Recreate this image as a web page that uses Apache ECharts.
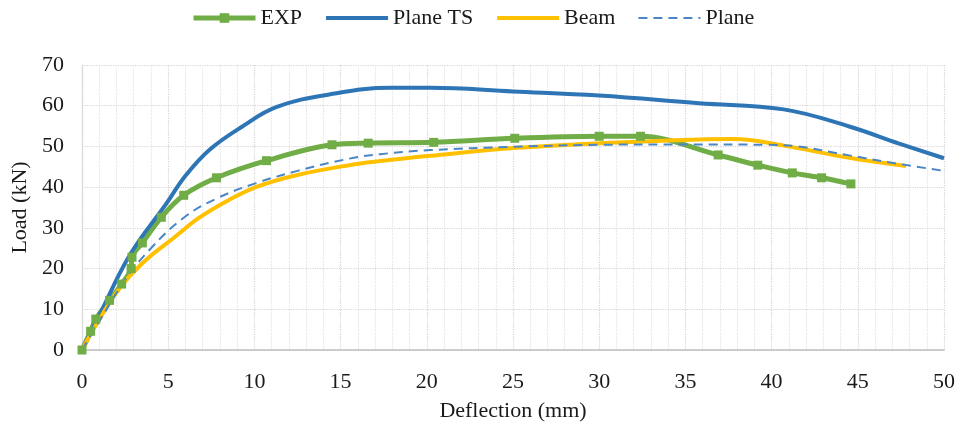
<!DOCTYPE html>
<html lang="en">
<head>
    <meta charset="UTF-8">
    <title>Load - Deflection</title>
    <script src="https://cdn.jsdelivr.net/npm/echarts@6/dist/echarts.min.js"></script>
    <style>
        html, body { margin: 0; padding: 0; background: #fff; }
    </style>
</head>
<body>
<div id="chart" style="width:957px; height:423px"></div>
<script type="text/javascript">
    // data (deflection in mm, load in kN)
    var expDefl = [0, 0.5, 0.8, 1.6, 2.3, 2.85, 2.9, 3.5, 4.6, 5.9, 7.8, 10.7, 14.5, 16.6, 20.4, 25.1, 30.0, 32.4, 36.9, 39.2, 41.2, 42.9, 44.6];
    var expLoad = [0, 4.6, 7.6, 12.2, 16.2, 20.0, 22.8, 26.3, 32.6, 38.0, 42.3, 46.5, 50.4, 50.8, 51.0, 52.0, 52.5, 52.5, 47.9, 45.4, 43.5, 42.3, 40.8];

    var tsDefl = [0, 1.0, 2.8, 4.9, 6.0, 7.4, 9.3, 11.3, 14.4, 17.9, 20.2, 25.0, 30.0, 35.8, 40.7, 44.5, 47.4, 50.0];
    var tsLoad = [0, 8.5, 23.5, 36.0, 42.8, 49.2, 54.9, 59.7, 62.8, 64.4, 64.4, 63.5, 62.5, 60.6, 59.1, 54.9, 50.7, 47.1];

    var beamDefl = [0, 0.75, 2.1, 3.5, 5.4, 6.8, 8.5, 10.2, 12.5, 15.5, 17.3, 20.2, 25.0, 30.0, 33.0, 37.8, 40.7, 44.5, 47.8];
    var beamLoad = [0, 5.7, 14.7, 21.3, 27.8, 32.5, 36.8, 40.2, 43.0, 45.4, 46.4, 47.7, 49.6, 50.8, 51.3, 51.8, 50.2, 47.2, 45.2];

    var planeDefl = [0, 1.0, 2.5, 4.0, 5.9, 7.8, 10.1, 12.5, 15.5, 17.3, 20.2, 25.0, 30.0, 35.0, 39.7, 41.5, 44.5, 47.4, 50.0];
    var planeLoad = [0, 7.0, 17.2, 25.0, 32.5, 37.2, 41.0, 44.0, 47.0, 48.1, 49.1, 49.9, 50.4, 50.5, 50.4, 50.0, 47.8, 45.7, 44.0];

    function pairs(xs, ys) {
        var out = [];
        for (var i = 0; i < xs.length; i++) out.push([xs[i], ys[i]]);
        return out;
    }

    var font = 'Liberation Serif, Times New Roman, serif';
    var txt = '#1a1a1a';

    var myChart = echarts.init(document.getElementById('chart'));
    myChart.setOption({
        animation: false,
        backgroundColor: '#fff',
        textStyle: { fontFamily: font },
        legend: {
            top: 2,
            left: 186,
            itemWidth: 62,
            itemHeight: 12,
            itemGap: 22,
            textStyle: { fontFamily: font, fontSize: 22, color: txt },
            data: [
                { name: 'EXP', lineStyle: { width: 5 } },
                { name: 'Plane TS', itemStyle: { opacity: 0 }, lineStyle: { width: 4 } },
                { name: 'Beam', itemStyle: { opacity: 0 }, lineStyle: { width: 4 } },
                { name: 'Plane', itemStyle: { opacity: 0 }, lineStyle: { width: 2 } }
            ]
        },
        grid: { left: 82, right: 13, top: 65, bottom: 73, outerBoundsMode: 'none', containLabel: false },
        xAxis: {
            type: 'value',
            min: 0, max: 50, interval: 5,
            name: 'Deflection (mm)',
            nameLocation: 'middle',
            nameGap: 50,
            nameTextStyle: { fontFamily: font, fontSize: 22, color: txt },
            axisLabel: { fontFamily: font, fontSize: 22, color: txt, margin: 21 },
            axisTick: { show: false },
            axisLine: { lineStyle: { color: '#bfbfbf', width: 1.5 } },
            splitLine: { show: true, lineStyle: { color: '#d4d4d4', type: 'dotted', width: 1.2 } },
            minorTick: { show: false, splitNumber: 5 },
            minorSplitLine: { show: true, lineStyle: { color: '#e2e2e2', type: 'dotted', width: 1.2 } }
        },
        yAxis: {
            type: 'value',
            min: 0, max: 70, interval: 10,
            name: 'Load (kN)',
            nameLocation: 'middle',
            nameGap: 46,
            nameTextStyle: { fontFamily: font, fontSize: 22, color: txt },
            axisLabel: { fontFamily: font, fontSize: 22, color: txt, margin: 18 },
            axisTick: { show: false },
            axisLine: { show: true, lineStyle: { color: '#d9d9d9', width: 1.2 } },
            splitLine: { show: true, lineStyle: { color: '#d4d4d4', type: 'dotted', width: 1.2 } }
        },
        series: [
            {
                name: 'EXP',
                type: 'line',
                smooth: 0.35,
                symbol: 'rect',
                symbolSize: 9,
                showAllSymbol: true,
                itemStyle: { color: '#70AD47' },
                lineStyle: { color: '#70AD47', width: 5 },
                data: pairs(expDefl, expLoad)
            },
            {
                name: 'Plane TS',
                type: 'line',
                smooth: 0.4,
                symbol: 'none',
                itemStyle: { color: '#2E75B6' },
                lineStyle: { color: '#2E75B6', width: 4 },
                data: pairs(tsDefl, tsLoad)
            },
            {
                name: 'Beam',
                type: 'line',
                smooth: 0.4,
                symbol: 'none',
                itemStyle: { color: '#FFC000' },
                lineStyle: { color: '#FFC000', width: 4 },
                data: pairs(beamDefl, beamLoad)
            },
            {
                name: 'Plane',
                type: 'line',
                smooth: 0.4,
                symbol: 'none',
                itemStyle: { color: '#4A86C5' },
                lineStyle: { color: '#4A86C5', width: 2, type: [9, 6] },
                data: pairs(planeDefl, planeLoad)
            }
        ]
    });
</script>
</body>
</html>
